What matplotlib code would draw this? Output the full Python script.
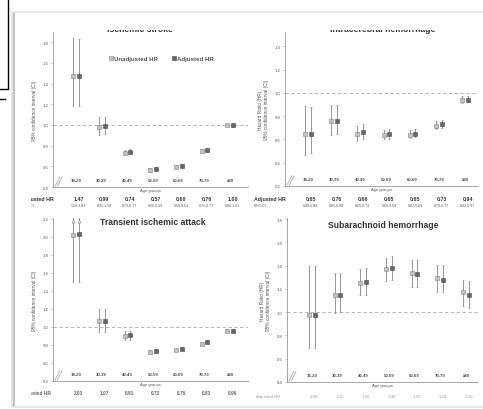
import numpy as np
import matplotlib
matplotlib.use('Agg')
import matplotlib.pyplot as plt
from matplotlib.lines import Line2D
from matplotlib.patches import Rectangle
from matplotlib.transforms import Bbox, TransformedBbox, blended_transform_factory

plt.rcParams['font.family'] = ['Liberation Sans', 'DejaVu Sans']

W, H = 483, 410

groups = ['18-29', '30-39', '40-49', '50-59', '60-69', '70-79', '\u226580']

# Ischemic stroke
isch_unadj = [1.47, 0.98, 0.73, 0.56, 0.59, 0.75, 1.00]
isch_unadj_lo = [1.18, 0.90, 0.71, 0.55, 0.58, 0.74, 0.99]
isch_unadj_hi = [1.84, 1.08, 0.76, 0.58, 0.61, 0.77, 1.01]
isch_adj = [1.47, 0.99, 0.74, 0.57, 0.60, 0.76, 1.00]
isch_adj_lo = [1.18, 0.91, 0.73, 0.56, 0.59, 0.75, 0.98]
isch_adj_hi = [1.83, 1.08, 0.77, 0.59, 0.62, 0.77, 1.01]

# Intracerebral hemorrhage
ich_unadj = [0.65, 0.76, 0.65, 0.64, 0.64, 0.72, 0.94]
ich_unadj_lo = [0.47, 0.64, 0.59, 0.60, 0.61, 0.69, 0.91]
ich_unadj_hi = [0.89, 0.90, 0.72, 0.68, 0.68, 0.76, 0.97]
ich_adj = [0.65, 0.76, 0.66, 0.65, 0.65, 0.73, 0.94]
ich_adj_lo = [0.48, 0.65, 0.60, 0.60, 0.62, 0.70, 0.92]
ich_adj_hi = [0.88, 0.90, 0.73, 0.69, 0.69, 0.77, 0.97]

# Transient ischemic attack
tia_unadj = [2.02, 1.07, 0.90, 0.72, 0.74, 0.81, 0.95]
tia_unadj_lo = [1.50, 0.94, 0.86, 0.71, 0.73, 0.80, 0.94]
tia_unadj_hi = [2.60, 1.20, 0.95, 0.74, 0.76, 0.83, 0.97]
tia_adj = [2.03, 1.07, 0.91, 0.73, 0.76, 0.83, 0.96]
tia_adj_lo = [1.50, 0.94, 0.86, 0.72, 0.75, 0.82, 0.95]
tia_adj_hi = [2.60, 1.20, 0.96, 0.75, 0.78, 0.85, 0.98]

# Subarachnoid hemorrhage
sah_unadj = [0.98, 1.15, 1.25, 1.37, 1.34, 1.29, 1.17]
sah_unadj_lo = [0.69, 0.99, 1.15, 1.27, 1.22, 1.17, 1.05]
sah_unadj_hi = [1.40, 1.34, 1.37, 1.47, 1.45, 1.41, 1.28]
sah_adj = [0.98, 1.15, 1.26, 1.38, 1.33, 1.28, 1.15]
sah_adj_lo = [0.69, 1.00, 1.15, 1.28, 1.22, 1.17, 1.04]
sah_adj_hi = [1.40, 1.34, 1.38, 1.48, 1.45, 1.41, 1.27]

fig = plt.figure(figsize=(W / 100, H / 100), dpi=100)


def fx(x):
    return x / W


def fy(y):
    return 1 - y / H


def clip_px(artist, x0, y0, x1, y1):
    bb = Bbox([[fx(x0), fy(y1)], [fx(x1), fy(y0)]])
    artist.set_clip_box(TransformedBbox(bb, fig.transFigure))
    artist.set_clip_on(True)


def panel(box, xlim, ylim, yticks, title, title_xy, clipx, data, table_rows):
    l, t, r, b = box
    ax = fig.add_axes([fx(l), fy(b), fx(r) - fx(l), (b - t) / H])
    ax.set_xlim(*xlim)
    ax.set_ylim(*ylim)
    x = np.arange(len(groups))
    u, ulo, uhi, a, alo, ahi = [np.array(d) for d in data]
    for xs, v, lo, hi, fc, ec in [(x - 0.11, u, ulo, uhi, '#c2c2c2', '#858585'),
                                   (x + 0.11, a, alo, ahi, '#666666', '#4c4c4c')]:
        ax.errorbar(xs, v, yerr=[v - lo, hi - v], fmt='s', ms=3.2, mfc=fc, mec=ec,
                    mew=0.4, ecolor='#858585', elinewidth=0.6, capsize=1.0,
                    capthick=0.5, zorder=3)
        over = hi > ylim[1]
        if over.any():
            ax.plot(xs[over], np.full(over.sum(), ylim[1] - 0.03), '^', ms=2.2,
                    mfc='white', mec='#858585', mew=0.4, zorder=4, clip_on=False)
    ax.axhline(1.0, ls=(0, (4, 3)), color='#a8a8a8', lw=0.6, zorder=1)

    for s in ['top', 'right']:
        ax.spines[s].set_visible(False)
    for s in ['left', 'bottom']:
        ax.spines[s].set_color('#9a9a9a')
        ax.spines[s].set_linewidth(0.6)
    ax.set_yticks(yticks)
    ax.set_yticklabels(['%.1f' % v for v in yticks])
    ax.tick_params(axis='y', length=1.5, width=0.4, color='#9a9a9a', pad=1.5,
                   labelsize=3.1, labelcolor='#555555')
    ax.set_xticks(x)
    ax.set_xticklabels(groups, fontweight='bold')
    ax.tick_params(axis='x', length=0, pad=-6.5, labelsize=3.1, labelcolor='#4a4a4a')
    ax.set_xlabel('Age groups', fontsize=3, color='#555555', labelpad=0.5)
    ax.set_ylabel('Hazard Ratio (HR)\n95% confidence interval (CI)', fontsize=3.4,
                  color='#555555', labelpad=4, linespacing=1.3)
    clip_px(ax.yaxis.label, clipx, 0, W, H)

    # axis break marks
    for dx in (0.0, 0.012):
        ax.plot([0.01 + dx, 0.035 + dx], [0.005, 0.065], color='#9a9a9a', lw=0.5,
                transform=ax.transAxes, clip_on=False)

    tt = fig.text(fx(title_xy[0]), fy(title_xy[1]), title, fontsize=6.2,
                  fontweight='bold', color='#333333', ha='center', va='center')
    clip_px(tt, 0, 31, W, H)

    tr = blended_transform_factory(ax.transData, fig.transFigure)
    for ry, lab, vals, size, col, wt in table_rows:
        t1 = fig.text(fx(l - 31), fy(ry), lab, fontsize=size, fontweight=wt,
                      color=col, ha='left', va='center')
        clip_px(t1, clipx, 0, 476, H)
        for i, s in enumerate(vals):
            t2 = ax.text(i + 0.1, fy(ry), s, transform=tr, fontsize=size,
                         fontweight=wt, color=col, ha='center', va='center',
                         clip_on=False)
            clip_px(t2, clipx, 0, 476, H)
    return ax


def hr_row(v):
    return ['%.2f' % a for a in v]


def ci_row(lo, hi):
    return ['%.2f-%.2f' % (a, b) for a, b in zip(lo, hi)]


ax1 = panel((53, 33, 248, 188), (-0.9, 6.7), (0.4, 1.9), np.arange(0.4, 1.81, 0.2),
            'Ischemic stroke', (140, 29.5), 31,
            [isch_unadj, isch_unadj_lo, isch_unadj_hi, isch_adj, isch_adj_lo, isch_adj_hi],
            [(200, 'Adjusted HR', hr_row(isch_adj), 3.8, '#333333', 'bold'),
             (206, '95% CI', ci_row(isch_adj_lo, isch_adj_hi), 2.6, '#555555', 'normal')])

ax2 = panel((285, 33, 478, 187), (-0.88, 6.5), (0.2, 1.524), np.arange(0.2, 1.41, 0.2),
            'Intracerebral hemorrhage', (383, 29.5), 0,
            [ich_unadj, ich_unadj_lo, ich_unadj_hi, ich_adj, ich_adj_lo, ich_adj_hi],
            [(200, 'Adjusted HR', hr_row(ich_adj), 3.8, '#333333', 'bold'),
             (206, '95% CI', ci_row(ich_adj_lo, ich_adj_hi), 2.6, '#555555', 'normal')])

ax3 = panel((53, 219, 248, 382), (-0.9, 6.7), (0.4, 2.21), np.arange(0.4, 2.21, 0.2),
            'Transient ischemic attack', (153, 223), 31,
            [tia_unadj, tia_unadj_lo, tia_unadj_hi, tia_adj, tia_adj_lo, tia_adj_hi],
            [(394, 'Adjusted HR', hr_row(tia_adj), 3.4, '#666666', 'bold')])

ax4 = panel((287, 219, 478, 383), (-0.97, 6.47), (0.4, 1.81), np.arange(0.4, 1.81, 0.2),
            'Subarachnoid hemorrhage', (383, 225), 0,
            [sah_unadj, sah_unadj_lo, sah_unadj_hi, sah_adj, sah_adj_lo, sah_adj_hi],
            [(397, 'Adjusted HR', hr_row(sah_adj), 3.2, '#a0a0a0', 'normal')])

# legend in the first panel
handles = [Line2D([], [], marker='s', ls='none', ms=3.0, mfc='#c2c2c2', mec='#858585', mew=0.4),
           Line2D([], [], marker='s', ls='none', ms=3.0, mfc='#666666', mec='#4c4c4c', mew=0.4)]
leg = ax1.legend(handles, ['Unadjusted HR', 'Adjusted HR'], ncol=2, frameon=False,
                 prop={'size': 4.4, 'weight': 'bold'}, handletextpad=0.1,
                 columnspacing=2.2, handlelength=0.8, loc='center',
                 bbox_to_anchor=(fx(161), fy(59)), bbox_transform=fig.transFigure)
for txt in leg.get_texts():
    txt.set_color('#555555')

# page edges and the window frame at the left
fig.add_artist(Rectangle((fx(11), fy(408)), 2 / W, 395 / H, transform=fig.transFigure,
                         color='#e4e4e4', lw=0))
fig.add_artist(Rectangle((fx(13), fy(408)), 2 / W, 395 / H, transform=fig.transFigure,
                         color='#c4c4c4', lw=0))
fig.add_artist(Line2D([fx(13), 1], [fy(13), fy(13)], color='#e0e0e0', lw=1.2))
fig.add_artist(Line2D([fx(13), 1], [fy(408), fy(408)], color='#e0e0e0', lw=1.2))
fig.add_artist(Line2D([fx(8), fx(8), 0], [1, fy(90), fy(90)], color='black', lw=1.0))
fig.add_artist(Line2D([0, fx(5)], [fy(100), fy(100)], color='black', lw=1.0))

fig.savefig('out.png', dpi=100)
